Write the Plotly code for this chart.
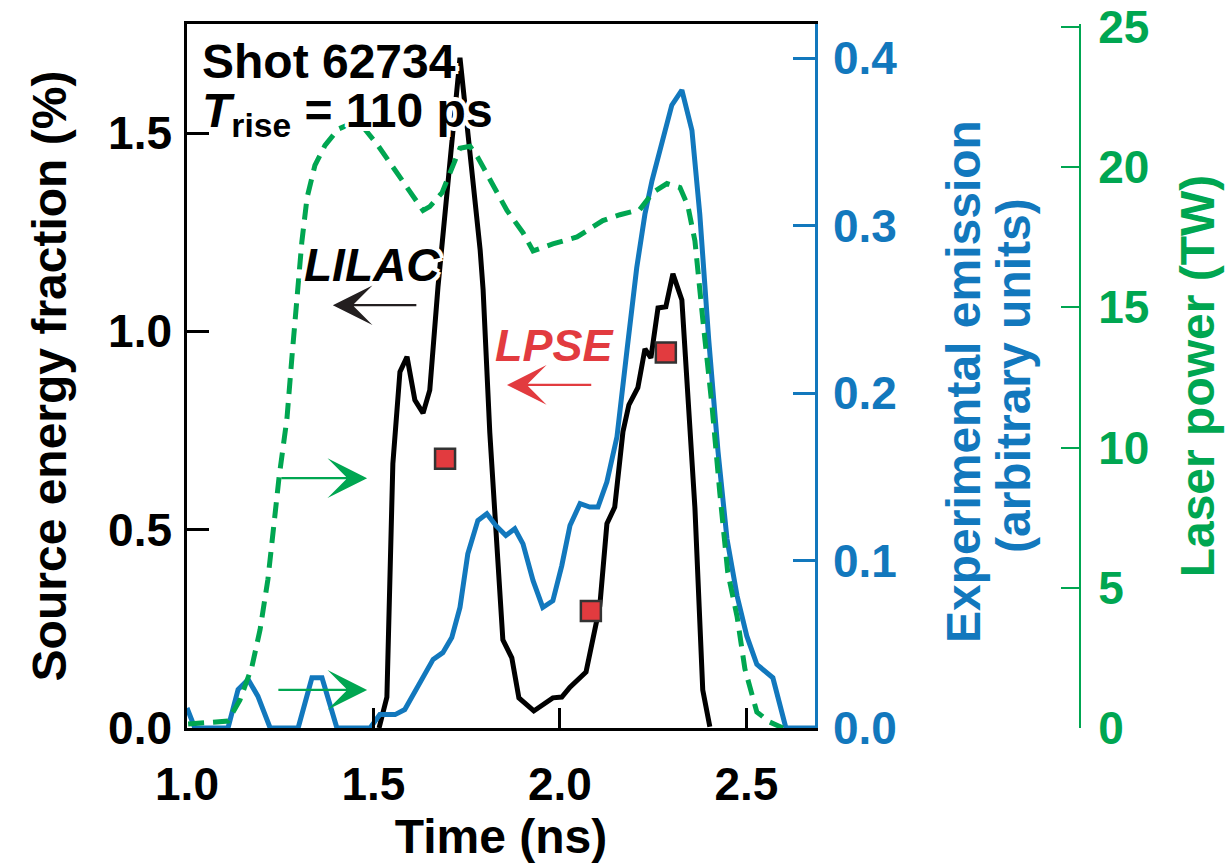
import plotly.graph_objects as go

# ---------------- data ----------------
time_lilac = [1.515, 1.536, 1.552, 1.571, 1.590, 1.611, 1.633, 1.651, 1.673, 1.732,
              1.786, 1.794, 1.812, 1.831, 1.847, 1.871, 1.890, 1.930, 1.960, 1.981,
              2.005, 2.027, 2.070, 2.088, 2.107, 2.126, 2.147, 2.169, 2.185, 2.209,
              2.228, 2.244, 2.263, 2.284, 2.303, 2.327, 2.338, 2.362, 2.383, 2.402]
lilac = [0.0, 0.078, 0.666, 0.898, 0.936, 0.827, 0.794, 0.852, 1.112, 1.690,
         1.206, 1.105, 0.744, 0.482, 0.222, 0.177, 0.076, 0.043, 0.063, 0.076,
         0.078, 0.103, 0.141, 0.222, 0.308, 0.515, 0.557, 0.747, 0.815, 0.858,
         0.956, 0.933, 1.059, 1.062, 1.145, 1.079, 0.918, 0.555, 0.096, 0.003]

time_emission = [1.000, 1.013, 1.021, 1.110, 1.137, 1.164, 1.190, 1.223, 1.298, 1.335,
                 1.362, 1.402, 1.491, 1.517, 1.558, 1.584, 1.625, 1.660, 1.686, 1.710,
                 1.732, 1.753, 1.780, 1.804, 1.828, 1.855, 1.879, 1.901, 1.928, 1.954,
                 1.981, 2.005, 2.027, 2.054, 2.080, 2.102, 2.126, 2.153, 2.180, 2.206,
                 2.228, 2.247, 2.300, 2.327, 2.354, 2.375, 2.399, 2.424, 2.448, 2.475,
                 2.501, 2.528, 2.571, 2.606, 2.684]
emission = [0.012, 0.005, 0.0, 0.0, 0.023, 0.029, 0.019, 0.0, 0.0, 0.030,
            0.030, 0.0, 0.0, 0.008, 0.008, 0.011, 0.027, 0.041, 0.045, 0.054,
            0.072, 0.104, 0.124, 0.128, 0.121, 0.115, 0.119, 0.110, 0.088, 0.072,
            0.076, 0.097, 0.121, 0.134, 0.132, 0.132, 0.147, 0.174, 0.226, 0.275,
            0.307, 0.327, 0.372, 0.381, 0.357, 0.307, 0.232, 0.165, 0.113, 0.079,
            0.055, 0.038, 0.030, 0.0, 0.0]

time_laser = [1.003, 1.110, 1.142, 1.174, 1.196, 1.217, 1.247, 1.268, 1.282, 1.295,
              1.308, 1.322, 1.343, 1.370, 1.405, 1.442, 1.477, 1.512, 1.550, 1.592,
              1.633, 1.651, 1.684, 1.732, 1.759, 1.780, 1.812, 1.858, 1.901, 1.928,
              1.981, 2.046, 2.115, 2.161, 2.214, 2.249, 2.287, 2.322, 2.343, 2.362,
              2.383, 2.408, 2.429, 2.450, 2.475, 2.496, 2.528, 2.563, 2.598]
laser = [0.14, 0.25, 1.00, 2.18, 3.51, 5.30, 8.95, 11.03, 13.32, 15.47,
         17.34, 18.91, 20.06, 20.77, 21.35, 21.56, 21.35, 20.77, 20.06, 19.20,
         18.45, 18.59, 19.09, 20.67, 20.74, 20.34, 19.56, 18.45, 17.66, 17.01,
         17.26, 17.51, 18.09, 18.30, 18.48, 19.09, 19.41, 19.27, 18.62, 17.37,
         14.58, 11.46, 8.35, 5.55, 3.98, 2.11, 0.57, 0.21, 0.0]

time_lpse = [1.692, 2.083, 2.284]
lpse = [0.679, 0.295, 0.947]

x_ticks = [1.0, 1.5, 2.0, 2.5]
y_ticks = [0.0, 0.5, 1.0, 1.5]
y2_ticks = [0.0, 0.1, 0.2, 0.3, 0.4]
y3_ticks = [0, 5, 10, 15, 20, 25]

# ---------------- geometry (page pixels; body margin removed below) ----------------
W, H = 1229, 865
PLOT_L, PLOT_R, PLOT_T, PLOT_B, GREEN_X = 187, 815, 24, 728, 1080
L, T = PLOT_L, PLOT_T
B = H - PLOT_B
R = W - GREEN_X
PW, PH = W - L - R, H - T - B
XDOM = (PLOT_R - PLOT_L) / PW

BLACK = "#000000"
BLUE = "#1278bd"
GREEN = "#00a651"
RED = "#e23b3f"
FONT = "Liberation Sans, Arial, Helvetica, sans-serif"
TICKSIZE = 46
TITLESIZE = 48
WHITE_OUTLINE = ("4px 0 #fff, -4px 0 #fff, 0 4px #fff, 0 -4px #fff, "
                 "3px 3px #fff, -3px -3px #fff, 3px -3px #fff, -3px 3px #fff")


def px(xp):
    return (xp - PLOT_L) / PW


def py(yp):
    return (PLOT_B - yp) / PH


fig = go.Figure()

fig.add_trace(go.Scatter(x=time_laser, y=laser, mode="lines", yaxis="y3",
                         line=dict(color=GREEN, width=5, dash="16px,9px"),
                         name="Laser power", showlegend=False))
fig.add_trace(go.Scatter(x=time_emission, y=emission, mode="lines", yaxis="y2",
                         line=dict(color=BLUE, width=5),
                         name="Experimental emission", showlegend=False))
fig.add_trace(go.Scatter(x=time_lilac, y=lilac, mode="lines",
                         line=dict(color=BLACK, width=5),
                         name="LILAC", showlegend=False))
fig.add_trace(go.Scatter(x=time_lpse, y=lpse, mode="markers",
                         marker=dict(symbol="square", size=20, color=RED,
                                     line=dict(color="#333333", width=2.5)),
                         name="LPSE", showlegend=False))

fig.update_layout(
    width=W, height=H,
    margin=dict(l=L, r=R, t=T, b=B, autoexpand=False),
    paper_bgcolor="white", plot_bgcolor="white",
    font=dict(family=FONT, color=BLACK),
    xaxis=dict(
        domain=[0, XDOM], range=[1.0, 2.684],
        tickvals=x_ticks, ticktext=[f"{v:.1f}" for v in x_ticks],
        ticks="inside", ticklen=20, tickwidth=2.5, tickcolor=BLACK,
        showline=True, linecolor=BLACK, linewidth=2.5, mirror=True,
        showgrid=False, zeroline=False,
        tickfont=dict(size=TICKSIZE, weight="bold", color=BLACK),
        ticklabelstandoff=14,
        title=dict(text="Time (ns)", font=dict(size=TITLESIZE, weight="bold"),
                   standoff=0),
    ),
    yaxis=dict(
        range=[0, 1.775],
        tickvals=y_ticks, ticktext=[f"{v:.1f}" for v in y_ticks],
        ticks="inside", ticklen=22, tickwidth=2.5, tickcolor=BLACK,
        showline=True, linecolor=BLACK, linewidth=2.5,
        showgrid=False, zeroline=False,
        tickfont=dict(size=TICKSIZE, weight="bold", color=BLACK),
        ticklabelstandoff=3,
        title=dict(text="Source energy fraction (%)",
                   font=dict(size=TITLESIZE, weight="bold"), standoff=27),
    ),
    yaxis2=dict(
        range=[0, 0.4205], overlaying="y", side="right", anchor="x",
        tickvals=y2_ticks, ticktext=[f"{v:.1f}" for v in y2_ticks],
        ticks="inside", ticklen=22, tickwidth=2.5, tickcolor=BLUE,
        showline=True, linecolor=BLUE, linewidth=2.5,
        showgrid=False, zeroline=False,
        tickfont=dict(size=TICKSIZE, weight="bold", color=BLUE),
        ticklabelstandoff=6, ticklabeloverflow="allow",
    ),
    yaxis3=dict(
        range=[0, 25.1], overlaying="y", side="right", anchor="free", position=1.0,
        tickvals=y3_ticks, ticktext=[str(v) for v in y3_ticks],
        ticks="inside", ticklen=18, tickwidth=2, tickcolor=GREEN,
        showline=True, linecolor=GREEN, linewidth=2,
        showgrid=False, zeroline=False,
        tickfont=dict(size=TICKSIZE, weight="bold", color=GREEN),
        ticklabelstandoff=8, ticklabeloverflow="allow",
        title=dict(text="Laser power (TW)",
                   font=dict(size=TITLESIZE, weight="bold", color=GREEN), standoff=31),
    ),
    showlegend=False,
)

annotations = [
    # blue axis title (two lines)
    dict(text="Experimental emission", x=px(963), y=py(382), xref="paper", yref="paper",
         textangle=-90, showarrow=False, xanchor="center", yanchor="middle",
         font=dict(size=TITLESIZE, weight="bold", color=BLUE, family=FONT)),
    dict(text="(arbitrary units)", x=px(1013), y=py(376), xref="paper", yref="paper",
         textangle=-90, showarrow=False, xanchor="center", yanchor="middle",
         font=dict(size=TITLESIZE, weight="bold", color=BLUE, family=FONT)),
    # shot info
    dict(text="Shot 62734", x=px(200), y=py(62), xref="paper", yref="paper",
         showarrow=False, xanchor="left", yanchor="middle",
         font=dict(size=48, weight="bold", color=BLACK, family=FONT, shadow=WHITE_OUTLINE)),
    dict(text="<i>T</i><sub>rise</sub> = 110 ps", x=px(200), y=py(114), xref="paper", yref="paper",
         showarrow=False, xanchor="left", yanchor="middle",
         font=dict(size=48, weight="bold", color=BLACK, family=FONT, shadow=WHITE_OUTLINE)),
    # curve labels
    dict(text="<i>LILAC</i>", x=px(372), y=py(265), xref="paper", yref="paper",
         showarrow=False, xanchor="center", yanchor="middle",
         font=dict(size=46, weight="bold", color=BLACK, family=FONT, shadow=WHITE_OUTLINE)),
    dict(text="<i>LPSE</i>", x=px(555), y=py(345), xref="paper", yref="paper",
         showarrow=False, xanchor="center", yanchor="middle",
         font=dict(size=45, weight="bold", color=RED, family=FONT)),
]

# arrows (tail -> head), in data coordinates of the left axis
arrows = [
    (1.619, 1.066, 1.391, 1.066, "#231f20"),
    (2.088, 0.865, 1.858, 0.865, RED),
    (1.249, 0.630, 1.483, 0.630, GREEN),
    (1.241, 0.096, 1.483, 0.096, GREEN),
]
for tx, ty, hx, hy, col in arrows:
    annotations.append(dict(
        x=hx, y=hy, ax=tx, ay=ty, xref="x", yref="y", axref="x", ayref="y",
        text="", showarrow=True, arrowhead=3, arrowsize=3.0, arrowwidth=2.2,
        arrowcolor=col, standoff=0, startstandoff=0,
    ))

fig.update_layout(annotations=annotations)

fig.write_html("out.html",
               config={"displayModeBar": False},
               post_script="document.body.style.margin='0';document.body.style.overflow='hidden';")
